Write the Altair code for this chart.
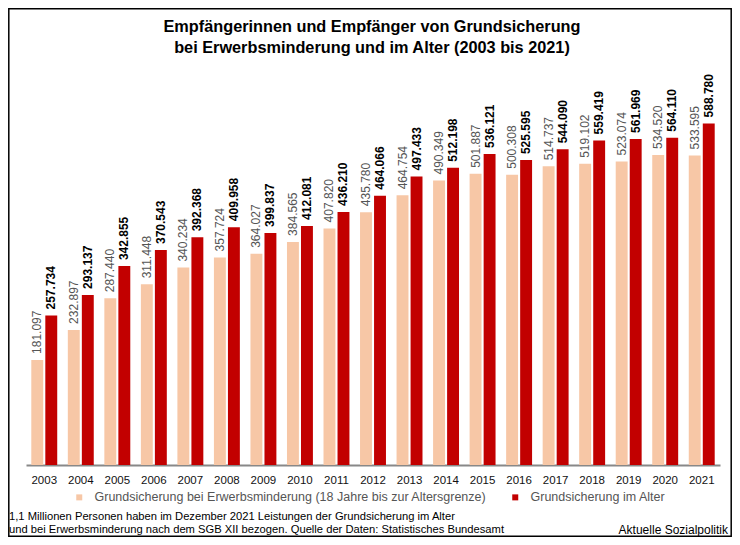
import altair as alt
import pandas as pd

years = [str(y) for y in range(2003, 2022)]
erwerbsminderung = [181097, 232897, 287440, 311448, 340234, 357724, 364027, 384565, 407820, 435780,
                    464754, 490349, 501887, 500308, 514737, 519102, 523074, 534520, 533595]
alter = [257734, 293137, 342855, 370543, 392368, 409958, 399837, 412081, 436210, 464066,
         497433, 512198, 536121, 525595, 544090, 559419, 561969, 564110, 588780]
series = ["Grundsicherung bei Erwerbsminderung (18 Jahre bis zur Altersgrenze)",
          "Grundsicherung im Alter"]
colors = ["#F7C7A6", "#C20000"]
title_lines = ["Empfängerinnen und Empfänger von Grundsicherung",
               "bei Erwerbsminderung und im Alter (2003 bis 2021)"]
note_lines = ["1,1 Millionen Personen haben im Dezember 2021 Leistungen der Grundsicherung im Alter",
              "und bei Erwerbsminderung nach dem SGB XII bezogen. Quelle der Daten: Statistisches Bundesamt"]
source = "Aktuelle Sozialpolitik"


def fmt(v):
    return f"{v:,}".replace(",", ".")


rows = []
for yr, a, b in zip(years, erwerbsminderung, alter):
    rows.append({"Jahr": yr, "Serie": series[0], "Wert": a, "Label": fmt(a)})
    rows.append({"Jahr": yr, "Serie": series[1], "Wert": b, "Label": fmt(b)})
df = pd.DataFrame(rows)

W, H = 694, 380
FONT = "Liberation Sans, Arial"

x = alt.X("Jahr:N", sort=years,
          scale=alt.Scale(paddingInner=0.29, paddingOuter=0.145),
          axis=alt.Axis(title=None, labelAngle=0, labelFontSize=11.5, labelColor="#111",
                        labelFont=FONT, ticks=False, domainColor="#888", domainWidth=2,
                        labelPadding=9, grid=False))
xo = alt.XOffset("Serie:N", sort=series, scale=alt.Scale(paddingInner=0.15))
y = alt.Y("Wert:Q", scale=alt.Scale(domain=[0, 655000]), axis=None)

bars = alt.Chart(df).mark_bar().encode(
    x=x, xOffset=xo, y=y,
    color=alt.Color("Serie:N", sort=series,
                    scale=alt.Scale(domain=series, range=colors),
                    legend=alt.Legend(title=None, orient="none", direction="horizontal",
                                      legendX=47, legendY=406, labelFont=FONT,
                                      labelFontSize=12.5, labelColor="#555", labelLimit=0,
                                      labelOffset=9, symbolType="square", symbolSize=36,
                                      symbolStrokeWidth=0, columnPadding=22))
)

lab_light = alt.Chart(df).transform_filter(alt.datum.Serie == series[0]).mark_text(
    angle=270, align="left", baseline="middle", dx=6, font=FONT, fontSize=12, color="#555"
).encode(x=x, xOffset=xo, y=y, text="Label:N")

lab_dark = alt.Chart(df).transform_filter(alt.datum.Serie == series[1]).mark_text(
    angle=270, align="left", baseline="middle", dx=6, font=FONT, fontSize=12,
    fontWeight="bold", color="#000"
).encode(x=x, xOffset=xo, y=y, text="Label:N")

one = pd.DataFrame({"a": [0]})

title1 = alt.Chart(one).mark_text(font=FONT, fontSize=16.3, fontWeight="bold", align="center",
                                  baseline="middle", color="#000").encode(
    x=alt.value(346), y=alt.value(-58), text=alt.value(title_lines[0]))
title2 = alt.Chart(one).mark_text(font=FONT, fontSize=16.3, fontWeight="bold", align="center",
                                  baseline="middle", color="#000").encode(
    x=alt.value(346), y=alt.value(-37), text=alt.value(title_lines[1]))

note1 = alt.Chart(one).mark_text(font=FONT, fontSize=11.2, align="left", baseline="middle",
                                 color="#000").encode(
    x=alt.value(-17), y=alt.value(432), text=alt.value(note_lines[0]))
note2 = alt.Chart(one).mark_text(font=FONT, fontSize=11.2, align="left", baseline="middle",
                                 color="#000").encode(
    x=alt.value(-17), y=alt.value(445), text=alt.value(note_lines[1]))
src = alt.Chart(one).mark_text(font=FONT, fontSize=12, align="right", baseline="middle",
                               color="#000").encode(
    x=alt.value(702), y=alt.value(445), text=alt.value(source))

border = alt.Chart(one).mark_rect(fill="transparent", stroke="#000", strokeWidth=1.5).encode(
    x=alt.value(-17.2), x2=alt.value(W + 11.2), y=alt.value(-76.2), y2=alt.value(H + 71.2))

chart = alt.layer(bars, lab_light, lab_dark, title1, title2, note1, note2, src, border).properties(
    width=W, height=H,
    padding={"left": 18, "top": 77, "right": 12, "bottom": 72},
    autosize=alt.AutoSizeParams(type="none"),
    background="white",
).configure_view(strokeWidth=0)

chart.save("out.html", embed_options={"renderer": "svg", "actions": False})
